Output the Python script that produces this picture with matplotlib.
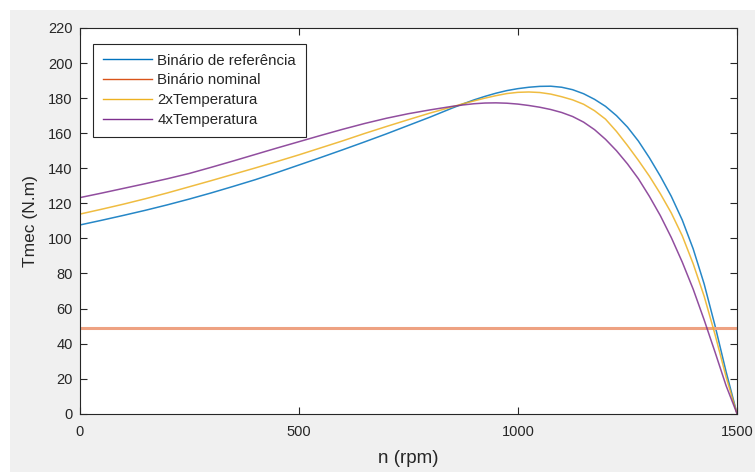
import matplotlib
matplotlib.use("Agg")
import matplotlib.pyplot as plt
from matplotlib.lines import Line2D
from matplotlib.patches import Rectangle

plt.rcParams['font.family'] = ['Liberation Sans', 'DejaVu Sans']

# Speed (rpm)
n_rpm = [0, 50, 100, 150, 200, 250, 300, 350, 400, 450, 500, 550, 600, 650, 700,
         750, 800, 850, 875, 900, 925, 950, 975, 1000, 1025, 1050, 1075, 1100,
         1125, 1150, 1175, 1200, 1225, 1250, 1275, 1300, 1325, 1350, 1375, 1400,
         1425, 1450, 1475, 1500]

# Mechanical torque (N.m)
t_ref = [107.6, 110.3, 113.1, 116.0, 119.1, 122.4, 125.9, 129.6, 133.4, 137.5,
         141.8, 146.1, 150.5, 155.0, 159.6, 164.4, 169.2, 174.3, 176.7, 179.0,
         181.0, 182.8, 184.3, 185.4, 186.2, 186.7, 186.8, 186.2, 184.8, 182.5,
         179.3, 175.3, 170.0, 163.5, 155.5, 146.0, 135.5, 124.0, 110.5, 94.0,
         74.0, 50.0, 24.0, 0.0]
t_2x = [113.8, 116.6, 119.5, 122.6, 125.9, 129.4, 132.9, 136.5, 140.1, 143.8,
        147.6, 151.6, 155.6, 159.8, 163.8, 167.7, 171.5, 175.0, 176.8, 178.4,
        180.0, 181.4, 182.6, 183.3, 183.5, 183.2, 182.3, 180.8, 179.0, 176.5,
        172.8, 168.0, 161.0, 153.0, 144.5, 135.5, 125.5, 114.5, 101.5, 85.5,
        67.0, 45.0, 21.0, 0.0]
t_4x = [123.2, 125.8, 128.5, 131.2, 134.0, 137.0, 140.5, 144.1, 147.8, 151.5,
        155.1, 158.7, 162.2, 165.5, 168.5, 171.1, 173.3, 175.3, 176.1, 176.8,
        177.2, 177.3, 177.1, 176.6, 175.8, 174.8, 173.5, 171.8, 169.5, 166.3,
        162.0, 156.5, 150.0, 142.5, 134.0, 124.0, 113.0, 100.5, 86.5, 71.0,
        53.5, 35.0, 16.0, 0.0]
t_nominal = 49.0

labels = ['Binário de referência', 'Binário nominal', '2xTemperatura', '4xTemperatura']
colors = ['#0072BD', '#D95319', '#EDB120', '#7E2F8E']

fig = plt.figure(figsize=(7.55, 4.72), dpi=100, facecolor='white')
fig.patches.append(Rectangle((10 / 755, 0), 1 - 10 / 755, 1 - 10 / 472,
                             transform=fig.transFigure, facecolor='#f0f0f0',
                             edgecolor='none', zorder=-10))

ax = fig.add_axes([0.1053, 0.1235, 0.8709, 0.8172])
ax.set_facecolor('white')

ax.plot(n_rpm, t_ref, color=colors[0], lw=1.1, alpha=0.85)
ax.plot([n_rpm[0], n_rpm[-1]], [t_nominal, t_nominal], color='#EEA282', lw=2.2)
ax.plot(n_rpm, t_2x, color=colors[2], lw=1.1, alpha=0.85)
ax.plot(n_rpm, t_4x, color=colors[3], lw=1.1, alpha=0.85)

ax.set_xlim(0, 1500)
ax.set_ylim(0, 220)
ax.set_xticks([0, 500, 1000, 1500])
ax.set_yticks(range(0, 221, 20))

dark = '#262626'
for s in ax.spines.values():
    s.set_color(dark)
    s.set_linewidth(0.8)
ax.tick_params(direction='in', length=5, width=0.8, color=dark,
               labelcolor=dark, labelsize=10.5, top=True, right=True)
ax.tick_params(axis='x', pad=8)
ax.tick_params(axis='y', pad=5)

ax.set_xlabel('n (rpm)', fontsize=13.5, color=dark, labelpad=8)
ax.set_ylabel('Tmec (N.m)', fontsize=12.5, color=dark, labelpad=7)

handles = [Line2D([], [], color=c, lw=1.0) for c in colors]
leg = ax.legend(handles, labels, loc='upper left', bbox_to_anchor=(0.0205, 0.9585),
                borderaxespad=0, fontsize=10.8, handlelength=3.3, handletextpad=0.35,
                labelspacing=0.38, borderpad=0.65, fancybox=False, framealpha=1,
                edgecolor=dark)
leg.get_frame().set_linewidth(0.8)
for t in leg.get_texts():
    t.set_color(dark)

fig.savefig('out.png', dpi=100, facecolor=fig.get_facecolor())
